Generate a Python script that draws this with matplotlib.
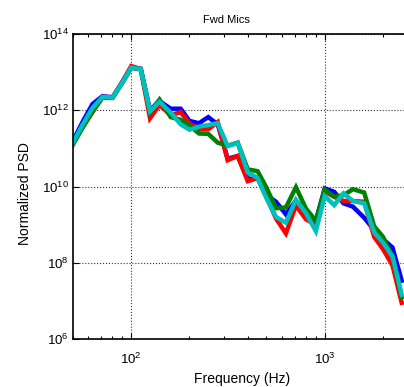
import numpy as np
from matplotlib import pyplot as plt
from matplotlib.ticker import LogLocator, NullLocator, LogFormatterSciNotation

plt.rcParams['font.family'] = ['Liberation Sans', 'DejaVu Sans']
plt.rcParams['mathtext.default'] = 'regular'

# 1/6-octave band centres (Hz)
freq = [50, 56, 63, 71, 80, 90, 100, 112, 125, 140, 160, 180, 200, 224, 250,
        280, 315, 355, 400, 450, 500, 560, 630, 710, 800, 900, 1000, 1120,
        1250, 1400, 1600, 1800, 2000, 2240, 2500]

# log10 of the normalized PSD for each mic
mic1_log = [11.20, 11.69, 12.16, 12.37, 12.34, 12.74, 13.13, 13.09, 12.00, 12.24,
            12.04, 12.04, 11.72, 11.66, 11.82, 11.63, 10.73, 10.80, 10.20, 10.22,
            9.77, 9.60, 9.27, 9.63, 9.32, 9.10, 9.95, 9.86, 9.56, 9.47,
            9.18, 8.86, 8.62, 8.40, 7.53]
mic2_log = [11.15, 11.56, 11.95, 12.35, 12.33, 12.75, 13.16, 13.08, 11.79, 12.14,
            11.87, 11.95, 11.65, 11.50, 11.50, 11.69, 10.69, 10.80, 10.14, 10.22,
            9.73, 9.16, 8.77, 9.50, 9.14, 8.99, 9.87, 9.73, 9.62, 9.62,
            9.60, 8.68, 8.36, 7.93, 6.95]
mic3_log = [11.10, 11.54, 11.96, 12.33, 12.32, 12.72, 13.11, 13.07, 11.95, 12.28,
            11.82, 11.75, 11.60, 11.39, 11.38, 11.15, 11.07, 11.15, 10.45, 10.40,
            9.97, 9.43, 9.45, 9.98, 9.42, 9.10, 9.92, 9.73, 9.77, 9.93,
            9.84, 8.96, 8.68, 8.15, 7.10]
mic4_log = [11.15, 11.62, 12.06, 12.35, 12.33, 12.73, 13.12, 13.08, 11.97, 12.22,
            11.94, 11.63, 11.49, 11.57, 11.61, 11.66, 11.06, 11.14, 10.37, 10.22,
            9.69, 9.20, 9.05, 9.65, 9.30, 8.83, 9.75, 9.51, 9.82, 9.62,
            9.56, 8.80, 8.53, 8.17, 7.16]

series = [mic1_log, mic2_log, mic3_log, mic4_log]
colors = ['#0000ff', '#ff0000', '#008000', '#00bfbf']

fig = plt.figure(figsize=(4.04, 3.87), dpi=100)
W, H = 404, 387
ax = fig.add_axes([73 / W, (H - 339) / H, 332 / W, 305 / H])

for vals, c in zip(series, colors):
    ax.plot(freq, 10 ** np.array(vals), color=c, lw=3.2, solid_joinstyle='miter')

ax.set_xscale('log')
ax.set_yscale('log')
ax.set_xlim(50, 2600)
ax.set_ylim(1e6, 1e14)

ax.set_yticks([1e6, 1e8, 1e10, 1e12, 1e14])
ax.yaxis.set_minor_locator(NullLocator())
ax.yaxis.set_major_formatter(LogFormatterSciNotation())
ax.xaxis.set_major_locator(LogLocator(base=10))
ax.xaxis.set_minor_locator(LogLocator(base=10, subs=np.arange(2, 10)))

ax.grid(True, which='major', color='0.2', linestyle=':', linewidth=0.8)
ax.tick_params(which='both', direction='in', top=True, right=False,
               labelsize=9.5, width=0.8)
ax.tick_params(which='major', length=4)
ax.tick_params(which='minor', length=2.5)
ax.tick_params(axis='x', pad=9)
ax.tick_params(axis='y', pad=3)

ax.spines['right'].set_visible(False)
for s in ['left', 'top', 'bottom']:
    ax.spines[s].set_linewidth(1.2)

ax.set_xlabel('Frequency (Hz)', fontsize=10)
ax.set_ylabel('Normalized PSD', fontsize=10)
ax.xaxis.set_label_coords(242 / W, (H - 386) / H, transform=fig.transFigure)
ax.yaxis.set_label_coords(32 / W, 0.5, transform=fig.transFigure)
ax.xaxis.label.set_va('bottom')

fig.text(226 / W, (H - 20) / H, 'Fwd Mics', ha='center', va='center', fontsize=8)

fig.savefig('out.png', dpi=100)
